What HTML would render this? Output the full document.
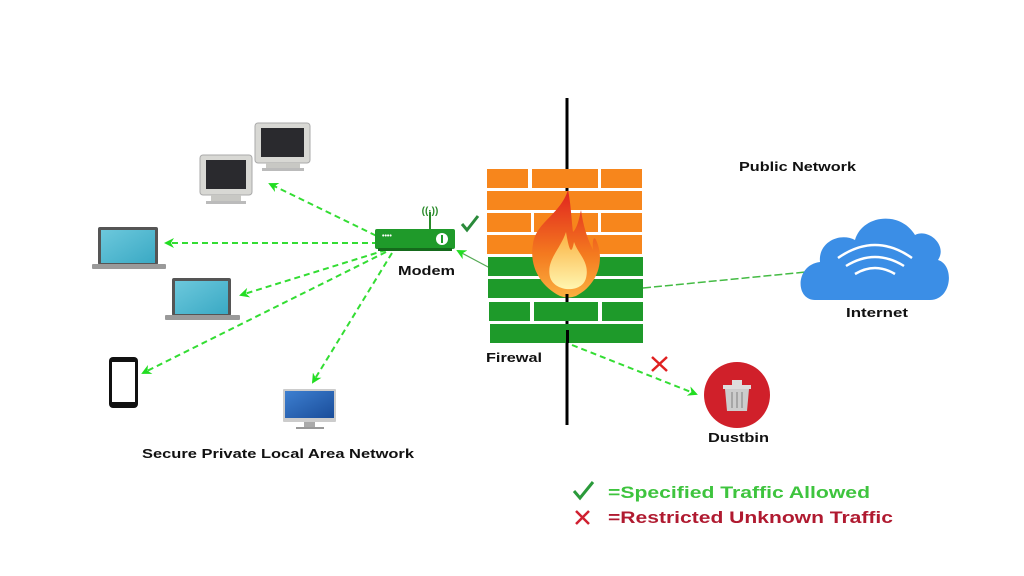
<!DOCTYPE html>
<html><head><meta charset="utf-8"><style>
html,body{margin:0;padding:0;background:#fff;width:1024px;height:576px;overflow:hidden}
svg text{font-family:"Liberation Sans",sans-serif;font-weight:bold}
</style></head><body>
<svg width="1024" height="576" viewBox="0 0 1024 576" xmlns="http://www.w3.org/2000/svg">
<defs>
<marker id="ah" markerWidth="10" markerHeight="10" refX="8" refY="5" orient="auto" markerUnits="userSpaceOnUse">
<path d="M0,0 L10,5 L0,10 L3,5 Z" fill="#22dd22"/></marker>
<linearGradient id="scr" x1="0" y1="0" x2="1" y2="1"><stop offset="0" stop-color="#6cc8dc"/><stop offset="1" stop-color="#3aa9c4"/></linearGradient>
<linearGradient id="imac" x1="0" y1="0" x2="1" y2="1"><stop offset="0" stop-color="#3d7fd0"/><stop offset="1" stop-color="#1a4d9a"/></linearGradient>
<linearGradient id="fl" x1="0" y1="0" x2="0" y2="1"><stop offset="0" stop-color="#e0231f"/><stop offset="0.6" stop-color="#f47a1f"/><stop offset="1" stop-color="#fbb040"/></linearGradient>
<linearGradient id="fl2" x1="0" y1="0" x2="0" y2="1"><stop offset="0" stop-color="#fbb040"/><stop offset="1" stop-color="#fff6b0"/></linearGradient>
</defs>

<line x1="567" y1="98" x2="567" y2="425" stroke="#000" stroke-width="3"/>

<g stroke="#33dd33" stroke-width="2" stroke-dasharray="6,4" fill="none" marker-end="url(#ah)">
<line x1="385" y1="240" x2="270" y2="184"/>
<line x1="378" y1="243" x2="166" y2="243"/>
<line x1="386" y1="250" x2="241" y2="295"/>
<line x1="386" y1="252" x2="143" y2="373"/>
<line x1="392" y1="253" x2="313" y2="382"/>
<line x1="572" y1="345" x2="696" y2="394"/>
</g>
<line x1="490" y1="268" x2="458" y2="251" stroke="#55aa55" stroke-width="1.2" marker-end="url(#ah)"/>
<line x1="643" y1="288" x2="806" y2="272" stroke="#44bb44" stroke-width="1.5" stroke-dasharray="8,3"/>

<g>
<rect x="255" y="123" width="55" height="40" rx="3" fill="#d8d8d4" stroke="#aaa"/>
<rect x="261" y="128" width="43" height="29" fill="#2a2a2e"/>
<rect x="266" y="163" width="34" height="5" fill="#c8c8c4"/>
<rect x="262" y="168" width="42" height="3" fill="#bbb"/>
<rect x="200" y="155" width="52" height="40" rx="3" fill="#d8d8d4" stroke="#aaa"/>
<rect x="206" y="160" width="40" height="29" fill="#2a2a2e"/>
<rect x="211" y="195" width="30" height="6" fill="#c8c8c4"/>
<rect x="206" y="201" width="40" height="3" fill="#bbb"/>
</g>
<rect x="98" y="227" width="60" height="38" rx="2" fill="#555"/>
<rect x="101" y="230" width="54" height="33" fill="url(#scr)"/>
<rect x="92" y="264" width="74" height="5" rx="1" fill="#9a9a9a"/>
<rect x="172" y="278" width="59" height="38" rx="2" fill="#555"/>
<rect x="175" y="281" width="53" height="33" fill="url(#scr)"/>
<rect x="165" y="315" width="75" height="5" rx="1" fill="#9a9a9a"/>
<rect x="109" y="357" width="29" height="51" rx="4" fill="#111"/>
<rect x="112" y="362" width="23" height="40" fill="#fff"/>
<rect x="283" y="389" width="53" height="33" rx="1" fill="#ccc"/>
<rect x="285" y="391" width="49" height="27" fill="url(#imac)"/>
<rect x="304" y="422" width="11" height="5" fill="#aaa"/>
<rect x="296" y="427" width="28" height="2" fill="#999"/>

<line x1="430" y1="212" x2="430" y2="230" stroke="#2a8a2a" stroke-width="2"/>
<text x="430" y="214" font-size="10" text-anchor="middle" fill="#2a8a2a">((·))</text>
<rect x="375" y="229" width="80" height="20" rx="2" fill="#1f9a2a"/>
<rect x="378" y="248" width="74" height="3" fill="#156a1c"/>
<text x="382" y="238" font-size="7" fill="#fff">••••</text>
<circle cx="442" cy="239" r="6" fill="#fff"/>
<rect x="441" y="235" width="2" height="8" fill="#1f9a2a"/>
<path d="M462,224 L467,230 L478,216" stroke="#2a8a3a" stroke-width="3" fill="none"/>
<text x="398" y="275" font-size="13" fill="#111" textLength="57" lengthAdjust="spacingAndGlyphs">Modem</text>

<g>
<g fill="#f7861c">
<rect x="487" y="169" width="41" height="19"/><rect x="532" y="169" width="66" height="19"/><rect x="601" y="169" width="41" height="19"/>
<rect x="487" y="191" width="155" height="19"/>
<rect x="487" y="213" width="44" height="19"/><rect x="534" y="213" width="64" height="19"/><rect x="601" y="213" width="41" height="19"/>
<rect x="487" y="235" width="155" height="19"/>
</g>
<g fill="#1e9a2a">
<rect x="488" y="257" width="155" height="19"/>
<rect x="488" y="279" width="155" height="19"/>
<rect x="489" y="302" width="41" height="19"/><rect x="534" y="302" width="64" height="19"/><rect x="602" y="302" width="41" height="19"/>
<rect x="490" y="324" width="153" height="19"/>
</g>
<rect x="566" y="330" width="3" height="13" fill="#000"/>
<path d="M568,190 C560,215 536,222 533,244 C529,266 540,286 560,296 C566,298 570,298 576,296 C596,286 604,264 598,245 C594,232 592,240 593,250 C587,238 583,225 581,210 C579,220 577,228 573,232 C571,215 571,205 568,190 Z" fill="url(#fl)"/>
<path d="M566,232 C560,250 546,260 550,277 C554,292 582,294 586,278 C590,262 578,254 574,242 C572,252 570,256 566,232 Z" fill="url(#fl2)"/>
<line x1="567" y1="294" x2="567" y2="300" stroke="#000" stroke-width="3"/>
</g>
<text x="486" y="362" font-size="13" fill="#111" textLength="56" lengthAdjust="spacingAndGlyphs">Firewal</text>

<path d="M652,357 L667,371 M667,357 L652,371" stroke="#e02020" stroke-width="2.5"/>

<circle cx="737" cy="395" r="33" fill="#d0202a"/>
<rect x="723" y="385" width="28" height="4" fill="#ddd"/>
<rect x="732" y="380" width="10" height="5" fill="#ddd"/>
<path d="M725,389 L749,389 L747,411 L727,411 Z" fill="#ccc"/>
<g stroke="#999" stroke-width="1.5"><line x1="732" y1="392" x2="732" y2="408"/><line x1="737" y1="392" x2="737" y2="408"/><line x1="742" y1="392" x2="742" y2="408"/></g>
<text x="708" y="442" font-size="13" fill="#111" textLength="61" lengthAdjust="spacingAndGlyphs">Dustbin</text>

<path d="M815,300 C795,300 795,265 820,262 C818,242 840,232 855,240 C862,215 900,210 915,235 C928,228 948,245 938,260 C955,265 952,300 930,300 Z" fill="#3b8ee6"/>
<g stroke="#fff" stroke-width="2.5" fill="none">
<path d="M838,258 Q875,232 912,258"/><path d="M846,266 Q875,248 904,266"/><path d="M855,274 Q875,262 895,274"/>
</g>
<text x="846" y="317" font-size="13" fill="#111" textLength="62" lengthAdjust="spacingAndGlyphs">Internet</text>
<text x="739" y="171" font-size="13" fill="#111" textLength="117" lengthAdjust="spacingAndGlyphs">Public Network</text>

<text x="142" y="458" font-size="13" fill="#111" textLength="272" lengthAdjust="spacingAndGlyphs">Secure Private Local Area Network</text>

<path d="M574,491 L580,498 L593,482" stroke="#2a9a3a" stroke-width="3" fill="none"/>
<text x="608" y="498" font-size="17" fill="#3ec43e" textLength="262" lengthAdjust="spacingAndGlyphs">=Specified Traffic Allowed</text>
<path d="M576,511 L589,524 M589,511 L576,524" stroke="#d02030" stroke-width="2.5"/>
<text x="608" y="523" font-size="17" fill="#b01a30" textLength="285" lengthAdjust="spacingAndGlyphs">=Restricted Unknown Traffic</text>
</svg>
</body></html>
